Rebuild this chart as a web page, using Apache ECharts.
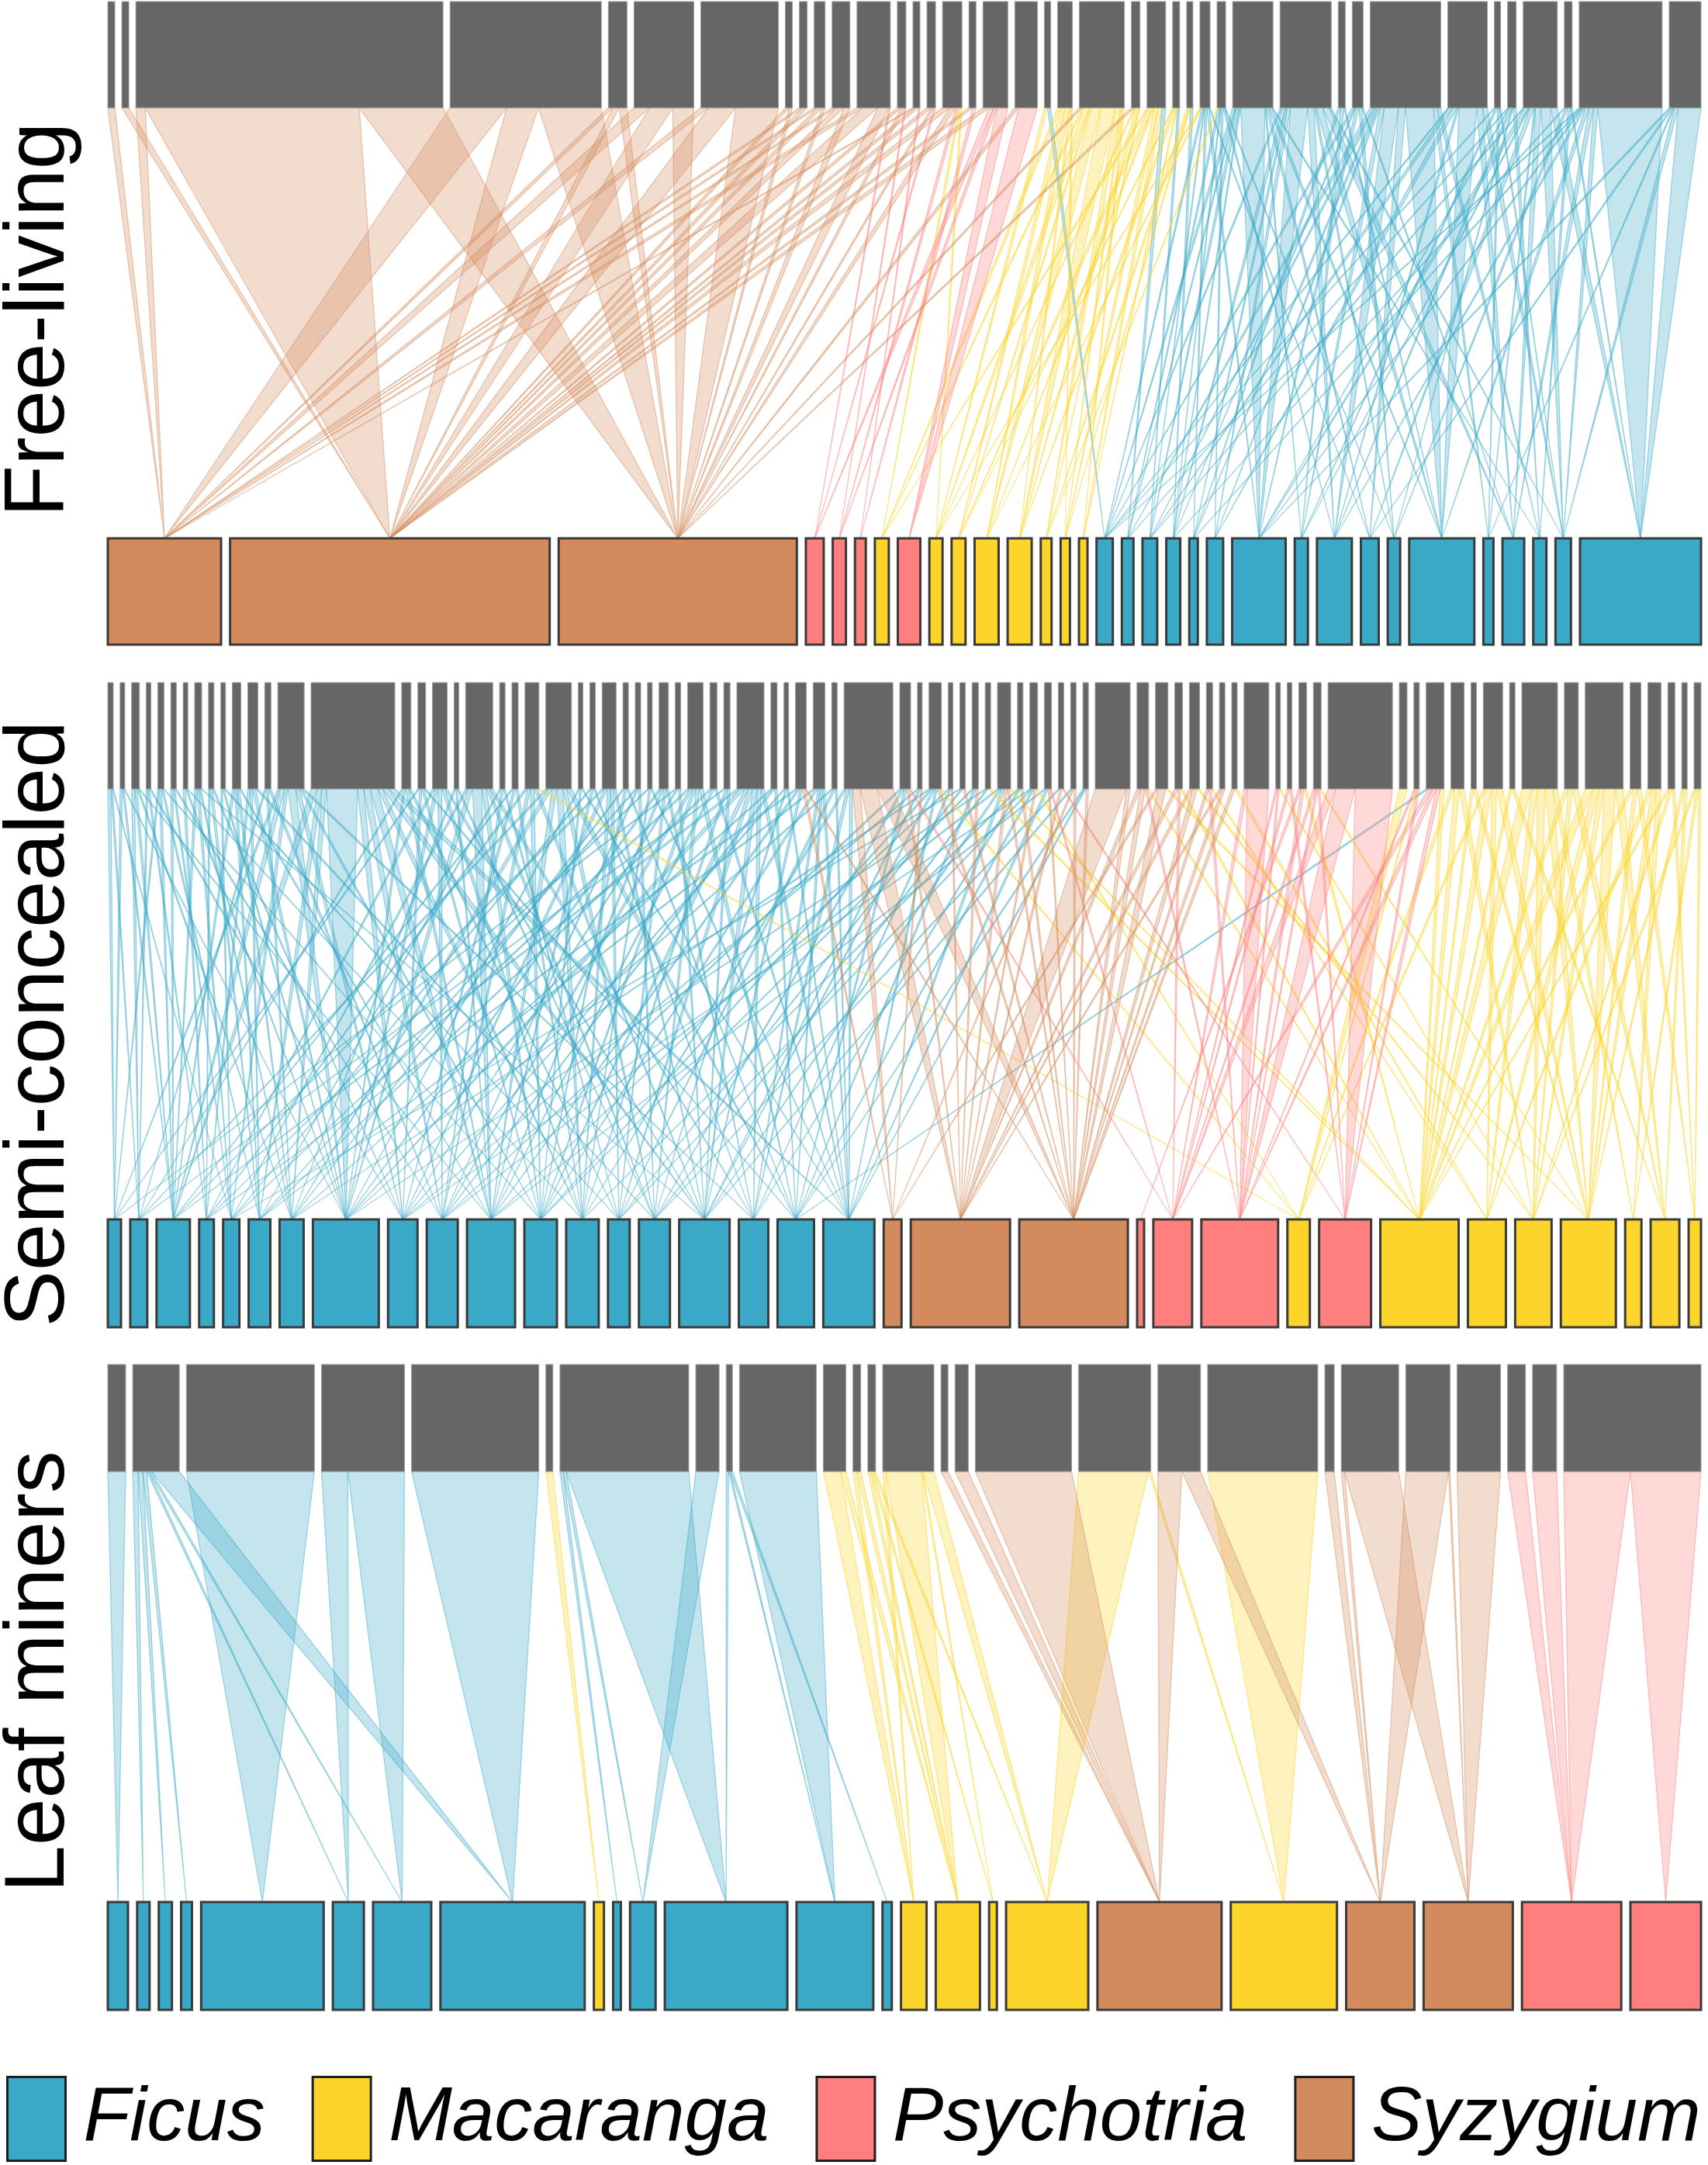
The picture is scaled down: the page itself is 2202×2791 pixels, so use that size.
<!DOCTYPE html>
<html>
<head>
<meta charset="utf-8">
<title>Herbivore - host plant networks</title>
<script src="https://cdn.jsdelivr.net/npm/echarts@6/dist/echarts.min.js"></script>
<style>
  html, body { margin: 0; padding: 0; background: #ffffff; }
  #chart { width: 2202px; height: 2791px; }
</style>
</head>
<body>
<div id="chart"></div>
<script>
// plant genera (lower level)
var genusKeys = ['F', 'M', 'P', 'S'];
var genusNames = ['Ficus', 'Macaranga', 'Psychotria', 'Syzygium'];

// ---------- Free-living ----------
// herbivore abundances (upper boxes, left to right)
var freeTop = [9, 9, 396, 195, 24, 77, 100, 9, 10, 14, 23, 43, 11, 9, 11, 25, 9, 32, 29, 8,
  19, 58, 11, 24, 9, 8, 13, 11, 52, 66, 9, 14, 91, 51, 8, 11, 44, 10, 107, 41];
// plant abundances (lower boxes)
var freeBottom = [146, 412, 307, 23, 17, 14, 18, 29, 17, 18, 31, 31, 14, 12, 11, 21, 15, 19, 18, 11,
  21, 69, 17, 45, 23, 16, 84, 13, 28, 17, 20, 156];
var freeGenus = ['S', 'S', 'S', 'P', 'P', 'P', 'M', 'P', 'M', 'M', 'M', 'M', 'M', 'M', 'M',
  'F', 'F', 'F', 'F', 'F', 'F', 'F', 'F', 'F', 'F', 'F', 'F', 'F', 'F', 'F', 'F', 'F'];
// [herbivore no., plant no., interactions]
var freeLinks = [
  [1, 1, 9], [2, 2, 9],
  [3, 1, 12], [3, 2, 276], [3, 3, 108],
  [4, 1, 73], [4, 2, 41], [4, 3, 81],
  [5, 1, 6], [5, 2, 8], [5, 3, 10],
  [6, 1, 20], [6, 2, 30], [6, 3, 27],
  [7, 1, 10], [7, 2, 35], [7, 3, 55],
  [8, 2, 5], [8, 3, 4], [9, 1, 4], [9, 2, 6],
  [10, 1, 4], [10, 2, 6], [10, 3, 4],
  [11, 1, 5], [11, 2, 10], [11, 3, 8],
  [12, 1, 8], [12, 2, 20], [12, 3, 15], [12, 4, 2],
  [13, 2, 6], [13, 3, 5], [13, 5, 2],
  [14, 1, 3], [14, 2, 6], [14, 6, 2],
  [15, 2, 6], [15, 3, 3], [15, 4, 2],
  [16, 2, 10], [16, 3, 8], [16, 5, 4], [16, 7, 3], [16, 9, 2],
  [17, 2, 5], [17, 6, 4],
  [18, 2, 8], [18, 4, 6], [18, 5, 4], [18, 8, 14],
  [19, 3, 5], [19, 8, 24],
  [20, 9, 4], [20, 16, 4],
  [21, 7, 5], [21, 10, 7], [21, 11, 7], [21, 12, 3], [21, 14, 2],
  [22, 3, 4], [22, 7, 3], [22, 9, 8], [22, 10, 3], [22, 11, 16], [22, 12, 22], [22, 13, 8], [22, 14, 3], [22, 15, 3],
  [23, 3, 5], [23, 9, 2], [23, 12, 6], [23, 13, 2],
  [24, 7, 3], [24, 10, 6], [24, 11, 3], [24, 14, 6], [24, 15, 6], [24, 17, 6],
  [25, 10, 2], [25, 12, 5], [25, 15, 2], [25, 18, 4],
  [26, 13, 4], [26, 14, 2], [26, 19, 4],
  [27, 9, 2], [27, 11, 2], [27, 16, 4], [27, 18, 2], [27, 20, 4], [27, 22, 5], [27, 25, 2],
  [28, 13, 2], [28, 17, 4], [28, 19, 2], [28, 21, 4], [28, 24, 3], [28, 26, 2],
  [29, 16, 4], [29, 17, 2], [29, 18, 4], [29, 19, 2], [29, 22, 36], [29, 23, 2], [29, 25, 4], [29, 27, 4], [29, 30, 2],
  [30, 16, 3], [30, 19, 5], [30, 20, 3], [30, 21, 5], [30, 22, 26], [30, 24, 10], [30, 26, 3], [30, 27, 10], [30, 29, 10], [30, 31, 3],
  [31, 20, 4], [31, 23, 5], [31, 27, 2],
  [32, 16, 4], [32, 19, 2], [32, 22, 5], [32, 26, 5], [32, 29, 2],
  [33, 17, 5], [33, 18, 3], [33, 20, 3], [33, 21, 3], [33, 23, 6], [33, 24, 20], [33, 25, 10], [33, 27, 40], [33, 28, 5], [33, 30, 5],
  [34, 16, 2], [34, 18, 5], [34, 21, 6], [34, 24, 3], [34, 27, 25], [34, 29, 8], [34, 31, 7],
  [35, 16, 2], [35, 23, 4], [35, 28, 4], [35, 31, 2],
  [36, 17, 2], [36, 22, 2], [36, 24, 5], [36, 26, 2], [36, 30, 6],
  [37, 18, 2], [37, 22, 6], [37, 23, 2], [37, 25, 6], [37, 28, 2], [37, 29, 8], [37, 31, 14], [37, 32, 10],
  [38, 19, 2], [38, 26, 5], [38, 30, 5], [38, 32, 3],
  [39, 16, 2], [39, 20, 2], [39, 22, 2], [39, 24, 3], [39, 27, 5], [39, 29, 6], [39, 31, 6], [39, 32, 90],
  [40, 22, 3], [40, 25, 3], [40, 28, 2], [40, 31, 6], [40, 32, 35]
];

// ---------- Semi-concealed ----------
var semiTop = [7, 6, 10, 6, 8, 7, 6, 9, 7, 6, 11, 13, 8, 34, 108, 12, 10, 19, 6, 35,
  7, 8, 18, 33, 6, 7, 18, 7, 7, 6, 12, 7, 20, 9, 8, 35, 8, 6, 14, 15,
  7, 63, 14, 6, 16, 6, 7, 8, 7, 17, 7, 10, 9, 7, 7, 7, 45, 15, 16, 10,
  13, 8, 7, 7, 32, 6, 6, 10, 10, 83, 10, 7, 23, 17, 7, 25, 7, 46, 18, 49,
  14, 17, 9, 7, 9];
var semiBottom = [17, 22, 43, 19, 21, 28, 31, 85, 38, 40, 62, 42, 42, 28, 40, 65, 38, 47, 66,
  23, 128, 140, 9, 50, 99, 29, 67, 101, 49, 47, 71, 21, 37, 16];
var semiGenus = ['F', 'F', 'F', 'F', 'F', 'F', 'F', 'F', 'F', 'F', 'F', 'F', 'F', 'F', 'F', 'F', 'F', 'F', 'F',
  'S', 'S', 'S', 'P', 'P', 'P', 'M', 'P', 'M', 'M', 'M', 'M', 'M', 'M', 'M'];
var semiLinks = [
  [1, 1, 4], [1, 2, 2], [1, 5, 1],
  [2, 1, 3], [2, 3, 2], [2, 8, 1],
  [3, 2, 4], [3, 3, 3], [3, 7, 2], [3, 11, 1],
  [4, 2, 2], [4, 4, 2], [4, 9, 2],
  [5, 1, 2], [5, 3, 3], [5, 6, 2], [5, 12, 1],
  [6, 3, 3], [6, 5, 2], [6, 10, 2],
  [7, 4, 3], [7, 8, 2], [7, 13, 1],
  [8, 3, 3], [8, 5, 3], [8, 7, 2], [8, 16, 1],
  [9, 4, 2], [9, 6, 3], [9, 9, 2],
  [10, 5, 2], [10, 8, 2], [10, 14, 2],
  [11, 3, 3], [11, 6, 3], [11, 7, 3], [11, 11, 2],
  [12, 4, 3], [12, 6, 3], [12, 8, 4], [12, 15, 3],
  [13, 2, 2], [13, 7, 3], [13, 10, 3],
  [14, 1, 3], [14, 3, 6], [14, 5, 4], [14, 8, 10], [14, 9, 5], [14, 12, 3], [14, 17, 3],
  [15, 3, 8], [15, 6, 6], [15, 7, 6], [15, 8, 40], [15, 9, 8], [15, 10, 8], [15, 11, 10], [15, 13, 6], [15, 16, 8], [15, 19, 8],
  [16, 2, 2], [16, 8, 3], [16, 11, 4], [16, 14, 3],
  [17, 1, 2], [17, 9, 3], [17, 12, 3], [17, 18, 2],
  [18, 4, 3], [18, 8, 4], [18, 10, 5], [18, 13, 4], [18, 16, 3],
  [19, 7, 2], [19, 11, 2], [19, 15, 2],
  [20, 5, 3], [20, 8, 6], [20, 11, 12], [20, 12, 6], [20, 15, 4], [20, 17, 4],
  [21, 6, 2], [21, 10, 3], [21, 14, 2],
  [22, 3, 2], [22, 9, 3], [22, 13, 3],
  [23, 4, 3], [23, 10, 4], [23, 12, 5], [23, 16, 4], [23, 26, 2],
  [24, 2, 3], [24, 7, 5], [24, 11, 6], [24, 13, 8], [24, 15, 5], [24, 18, 6],
  [25, 8, 2], [25, 12, 2], [25, 19, 2],
  [26, 5, 2], [26, 11, 3], [26, 17, 2],
  [27, 3, 3], [27, 9, 4], [27, 13, 4], [27, 14, 4], [27, 16, 3],
  [28, 7, 2], [28, 12, 3], [28, 18, 2],
  [29, 6, 2], [29, 10, 2], [29, 15, 3],
  [30, 4, 2], [30, 13, 2], [30, 19, 2],
  [31, 8, 3], [31, 11, 3], [31, 14, 3], [31, 17, 3],
  [32, 1, 2], [32, 9, 2], [32, 16, 3],
  [33, 5, 3], [33, 10, 4], [33, 12, 4], [33, 15, 4], [33, 18, 5],
  [34, 6, 3], [34, 11, 3], [34, 19, 3],
  [35, 2, 2], [35, 13, 3], [35, 16, 3],
  [36, 3, 4], [36, 8, 6], [36, 12, 5], [36, 14, 5], [36, 16, 6], [36, 17, 5], [36, 19, 4],
  [37, 7, 2], [37, 10, 3], [37, 18, 3],
  [38, 9, 2], [38, 15, 2], [38, 19, 2],
  [39, 4, 3], [39, 11, 3], [39, 16, 3], [39, 20, 3], [39, 22, 2],
  [40, 6, 3], [40, 12, 3], [40, 17, 3], [40, 18, 3], [40, 19, 3],
  [41, 8, 2], [41, 14, 3], [41, 19, 2],
  [42, 13, 3], [42, 17, 4], [42, 19, 4], [42, 20, 10], [42, 21, 22], [42, 22, 20],
  [43, 10, 3], [43, 15, 3], [43, 18, 3], [43, 21, 3], [43, 24, 2],
  [44, 9, 2], [44, 16, 2], [44, 20, 2],
  [45, 7, 3], [45, 12, 3], [45, 16, 3], [45, 19, 3], [45, 22, 4], [45, 26, 2],
  [46, 11, 2], [46, 17, 2], [46, 21, 2],
  [47, 5, 2], [47, 14, 2], [47, 22, 3],
  [48, 12, 2], [48, 18, 3], [48, 21, 3],
  [49, 8, 2], [49, 15, 2], [49, 28, 3],
  [50, 10, 3], [50, 16, 3], [50, 19, 4], [50, 21, 4], [50, 22, 3], [50, 28, 2],
  [51, 13, 2], [51, 17, 2], [51, 22, 3],
  [52, 9, 2], [52, 14, 2], [52, 18, 3], [52, 21, 3], [52, 26, 2],
  [53, 11, 2], [53, 19, 3], [53, 22, 2], [53, 24, 2],
  [54, 15, 2], [54, 21, 3], [54, 27, 2],
  [55, 16, 2], [55, 20, 2], [55, 22, 3],
  [56, 18, 2], [56, 19, 2], [56, 22, 3],
  [57, 21, 40], [57, 22, 5],
  [58, 21, 5], [58, 22, 7], [58, 25, 3], [58, 28, 2],
  [59, 20, 3], [59, 22, 10], [59, 31, 3],
  [60, 21, 4], [60, 24, 3], [60, 28, 3],
  [61, 21, 4], [61, 22, 6], [61, 30, 3],
  [62, 22, 4], [62, 25, 4], [62, 29, 2],
  [63, 21, 3], [63, 22, 4],
  [64, 22, 4], [64, 29, 3],
  [65, 24, 4], [65, 25, 28],
  [66, 24, 3], [66, 25, 3], [66, 30, 2],
  [67, 24, 3], [67, 27, 3],
  [68, 23, 3], [68, 25, 4], [68, 28, 3],
  [69, 24, 4], [69, 25, 3], [69, 27, 3], [69, 31, 2],
  [70, 24, 10], [70, 25, 25], [70, 27, 48],
  [71, 26, 10],
  [72, 25, 3], [72, 26, 2], [72, 27, 4],
  [73, 18, 3], [73, 24, 5], [73, 25, 5], [73, 27, 5], [73, 28, 5],
  [74, 26, 4], [74, 28, 7], [74, 30, 6],
  [75, 28, 3], [75, 31, 4],
  [76, 26, 3], [76, 28, 8], [76, 29, 6], [76, 31, 8],
  [77, 28, 3], [77, 33, 4],
  [78, 28, 12], [78, 29, 8], [78, 30, 10], [78, 31, 10], [78, 32, 6],
  [79, 28, 5], [79, 30, 5], [79, 33, 8],
  [80, 28, 10], [80, 29, 8], [80, 30, 6], [80, 31, 15], [80, 33, 10],
  [81, 28, 4], [81, 31, 5], [81, 34, 5],
  [82, 29, 5], [82, 31, 6], [82, 32, 6],
  [83, 28, 3], [83, 30, 3], [83, 34, 3],
  [84, 31, 3], [84, 33, 4],
  [85, 30, 3], [85, 32, 3], [85, 34, 3]
];

// ---------- Leaf miners ----------
var leafTop = [23, 60, 165, 107, 164, 9, 166, 30, 8, 99, 29, 10, 10, 66, 9, 17, 124, 93, 55, 142,
  12, 74, 57, 56, 23, 31, 177];
var leafBottom = [26, 16, 17, 14, 158, 40, 75, 186, 13, 10, 33, 158, 99, 12, 33, 57, 10, 106, 160, 137,
  88, 115, 128, 91];
var leafGenus = ['F', 'F', 'F', 'F', 'F', 'F', 'F', 'F', 'M', 'F', 'F', 'F', 'F', 'F',
  'M', 'M', 'M', 'M', 'S', 'M', 'S', 'S', 'P', 'P'];
var leafLinks = [
  [1, 1, 23],
  [2, 2, 7], [2, 3, 6], [2, 4, 5], [2, 6, 3], [2, 7, 3], [2, 8, 36],
  [3, 5, 165],
  [4, 6, 34], [4, 7, 73],
  [5, 8, 164],
  [6, 9, 9],
  [7, 10, 4], [7, 11, 4], [7, 12, 158],
  [8, 11, 30],
  [9, 12, 3], [9, 13, 2], [9, 14, 3],
  [10, 13, 99],
  [11, 15, 22], [11, 16, 7],
  [12, 15, 5], [12, 16, 5],
  [13, 16, 4], [13, 17, 3], [13, 18, 3],
  [14, 15, 4], [14, 16, 46], [14, 17, 2], [14, 18, 14],
  [15, 19, 9], [16, 19, 17], [17, 19, 124],
  [18, 18, 90], [18, 20, 3],
  [19, 19, 31], [19, 21, 24],
  [20, 20, 142],
  [21, 21, 12],
  [22, 21, 4], [22, 22, 70],
  [23, 21, 55], [23, 22, 2],
  [24, 22, 56],
  [25, 23, 23], [26, 23, 31],
  [27, 23, 86], [27, 24, 91]
];

// ---------- layout and style ----------
var rowLeft = 139, rowRight = 2193;
var panelRows = [
  { name: 'Free-living', topY: [2, 139], bottomY: [694, 831], labelY: 412 },
  { name: 'Semi-concealed', topY: [880, 1017], bottomY: [1572, 1711], labelY: 1320 },
  { name: 'Leaf miners', topY: [1759, 1897], bottomY: [2452, 2591], labelY: 2155 }
];
var panelData = [
  { top: freeTop, bottom: freeBottom, genus: freeGenus, links: freeLinks },
  { top: semiTop, bottom: semiBottom, genus: semiGenus, links: semiLinks },
  { top: leafTop, bottom: leafBottom, genus: leafGenus, links: leafLinks }
];
var genusColors = { F: '#3aa9c8', M: '#fdd52a', P: '#ff7f7f', S: '#d38b5d' };
var linkFill = { F: 'rgba(58,169,200,0.3)', M: 'rgba(253,213,42,0.3)', P: 'rgba(255,127,127,0.3)', S: 'rgba(211,139,93,0.3)' };
var linkEdge = { F: 'rgba(58,169,200,0.45)', M: 'rgba(253,213,42,0.5)', P: 'rgba(255,127,127,0.45)', S: 'rgba(211,139,93,0.45)' };

// boxes fill the row, spare width is shared out as gaps
function layoutRow(widths) {
  var total = widths.reduce(function (s, w) { return s + w; }, 0);
  var gap = (rowRight - rowLeft - total) / (widths.length - 1);
  var x = rowLeft, out = [];
  widths.forEach(function (w) {
    out.push([x, x + w]);
    x += w + gap;
  });
  return out;
}

var topBoxes = [];
var bottomBoxes = { F: [], M: [], P: [], S: [] };
var linkPolys = { F: [], M: [], P: [], S: [] };

panelData.forEach(function (pd, k) {
  var row = panelRows[k];
  var tops = layoutRow(pd.top);
  var bots = layoutRow(pd.bottom);
  tops.forEach(function (t) {
    topBoxes.push([t[0], t[1], row.topY[0], row.topY[1]]);
  });
  bots.forEach(function (b, j) {
    bottomBoxes[pd.genus[j]].push([b[0], b[1], row.bottomY[0], row.bottomY[1]]);
  });
  // each herbivore box is split among its plants, left to right
  tops.forEach(function (t, i) {
    var own = pd.links.filter(function (l) { return l[0] - 1 === i; })
      .sort(function (a, b) { return a[1] - b[1]; });
    var sum = own.reduce(function (s, l) { return s + l[2]; }, 0);
    var x = t[0];
    own.forEach(function (l) {
      var w = (t[1] - t[0]) * l[2] / sum;
      var b = bots[l[1] - 1];
      linkPolys[pd.genus[l[1] - 1]].push([x, x + w, row.topY[1], (b[0] + b[1]) / 2, row.bottomY[0]]);
      x += w;
    });
  });
});

function renderLink(params, api) {
  var a = api.coord([api.value(0), api.value(2)]);
  var b = api.coord([api.value(1), api.value(2)]);
  var c = api.coord([api.value(3), api.value(4)]);
  return { type: 'polygon', shape: { points: [a, b, c] }, style: api.style() };
}

function renderBox(params, api) {
  var p0 = api.coord([api.value(0), api.value(2)]);
  var p1 = api.coord([api.value(1), api.value(3)]);
  return {
    type: 'rect',
    shape: { x: p0[0], y: p0[1], width: p1[0] - p0[0], height: p1[1] - p0[1] },
    style: api.style()
  };
}

var series = [];
genusKeys.forEach(function (g, gi) {
  series.push({
    name: genusNames[gi] + ' links',
    type: 'custom',
    z: 1,
    silent: true,
    progressive: 0,
    renderItem: renderLink,
    encode: { x: [0, 1, 3], y: [2, 4] },
    itemStyle: { color: linkFill[g], borderColor: linkEdge[g], borderWidth: 1.3 },
    data: linkPolys[g]
  });
});
series.push({
  name: 'Herbivores',
  type: 'custom',
  z: 2,
  silent: true,
  renderItem: renderBox,
  encode: { x: [0, 1], y: [2, 3] },
  itemStyle: { color: '#666666', borderColor: '#9a9a9a', borderWidth: 1 },
  data: topBoxes
});
genusKeys.forEach(function (g, gi) {
  series.push({
    name: genusNames[gi],
    type: 'custom',
    z: 3,
    silent: true,
    renderItem: renderBox,
    encode: { x: [0, 1], y: [2, 3] },
    itemStyle: { color: genusColors[g], borderColor: '#3a3a3a', borderWidth: 3 },
    data: bottomBoxes[g]
  });
});

var chart = echarts.init(document.getElementById('chart'));
chart.setOption({
  animation: false,
  backgroundColor: '#ffffff',
  grid: { left: 0, right: 0, top: 0, bottom: 0 },
  xAxis: { type: 'value', min: 0, max: 2202, show: false },
  yAxis: { type: 'value', min: 0, max: 2791, inverse: true, show: false },
  legend: {
    data: genusNames.map(function (n, i) {
      return {
        name: n,
        icon: 'rect',
        itemStyle: { color: genusColors[genusKeys[i]], borderColor: '#1e1e1e', borderWidth: 3 }
      };
    }),
    left: 8,
    top: 2676,
    padding: 0,
    itemWidth: 75,
    itemHeight: 108,
    itemGap: 60,
    selectedMode: false,
    textStyle: {
      fontSize: 98,
      fontStyle: 'italic',
      fontFamily: '"Liberation Sans", Arial, sans-serif',
      color: '#000000',
      padding: [0, 0, 0, 18]
    }
  },
  graphic: panelRows.map(function (row) {
    return {
      type: 'text',
      x: 52,
      y: row.labelY,
      rotation: Math.PI / 2,
      style: {
        text: row.name,
        fontSize: 109,
        fontFamily: '"Liberation Sans", Arial, sans-serif',
        fill: '#000000',
        align: 'center',
        verticalAlign: 'middle'
      }
    };
  }),
  series: series
});
</script>
</body>
</html>
